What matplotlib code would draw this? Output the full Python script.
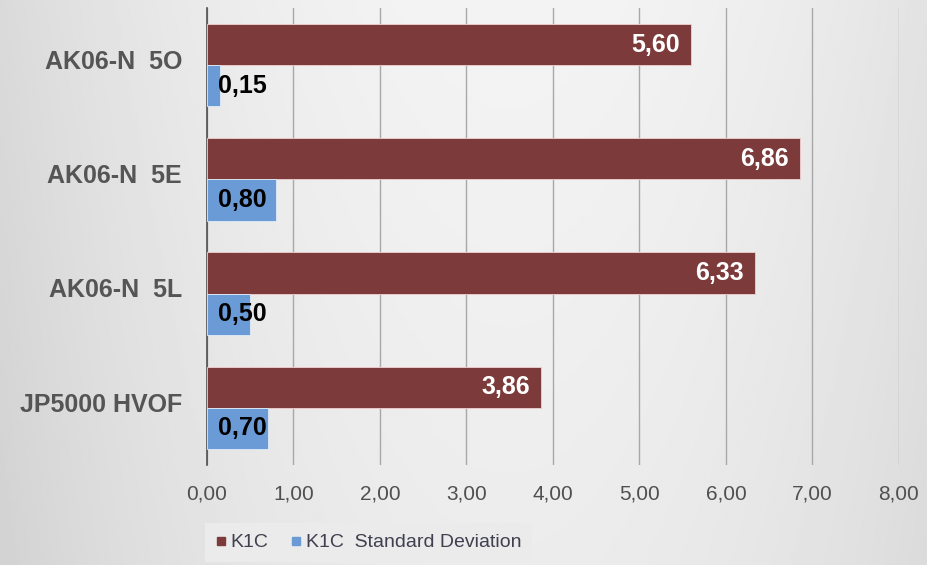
import matplotlib.pyplot as plt
import numpy as np
from matplotlib.lines import Line2D

categories = ["JP5000 HVOF", "AK06-N  5L", "AK06-N  5E", "AK06-N  5O"]
k1c = [3.86, 6.33, 6.86, 5.60]
k1c_std = [0.70, 0.50, 0.80, 0.15]
x_ticks = [0, 1, 2, 3, 4, 5, 6, 7, 8]
series_names = ["K1C", "K1C  Standard Deviation"]

MAROON = "#7d3a3a"
BLUE = "#6b9bd6"
REGULAR = ["Liberation Sans", "DejaVu Sans"]


def fmt(v):
    return f"{v:.2f}".replace(".", ",")


fig = plt.figure(figsize=(9.28, 5.65), dpi=100)

# soft gradient background like the office chart fill
bg = fig.add_axes([0, 0, 1, 1], zorder=-10)
yy, xx = np.mgrid[0:1:200j, 0:1:300j]
shade = 0.955 - 0.10 * ((xx - 0.55) / 0.55) ** 2 - 0.03 * yy
bg.imshow(shade, cmap="gray", vmin=0, vmax=1, aspect="auto", extent=[0, 1, 0, 1])
bg.axis("off")

ax = fig.add_axes([207 / 928, 1 - 465 / 565, (899 - 207) / 928, (465 - 8) / 565])
ax.patch.set_alpha(0)

y = np.arange(len(categories))
h = 0.36
ax.barh(y + h / 2, k1c, height=h, color=MAROON, edgecolor="#f0d0d0", linewidth=0.6, zorder=3)
ax.barh(y - h / 2, k1c_std, height=h, color=BLUE, edgecolor="#e0ecf8", linewidth=0.6, zorder=3)

for yi, v in zip(y, k1c):
    ax.text(v - 0.13, yi + h / 2, fmt(v), ha="right", va="center", color="white",
            fontsize=18, fontweight="bold", family=REGULAR, zorder=4)
for yi, v in zip(y, k1c_std):
    ax.text(0.13, yi - h / 2, fmt(v), ha="left", va="center", color="black",
            fontsize=18, fontweight="bold", family=REGULAR, zorder=4)

ax.set_xlim(0, 8)
ax.set_ylim(-0.5, len(categories) - 0.5)
ax.set_xticks(x_ticks)
ax.set_xticklabels([fmt(t) for t in x_ticks], family=REGULAR, fontsize=15, color="#505050")
ax.set_yticks(y + 0.05)
ax.set_yticklabels(categories, family=REGULAR, fontsize=18, fontweight="bold", color="#555555")
ax.tick_params(axis="x", length=0, pad=14)
ax.tick_params(axis="y", length=0, pad=18)

ax.xaxis.grid(True, color="#a8a8a8", linewidth=1)
ax.set_axisbelow(True)
for side in ["top", "right", "bottom"]:
    ax.spines[side].set_visible(False)
ax.spines["left"].set_color("#505050")
ax.spines["left"].set_linewidth(1.2)

handles = [
    Line2D([], [], marker="s", linestyle="none", color=MAROON, markersize=6),
    Line2D([], [], marker="s", linestyle="none", color=BLUE, markersize=6),
]
leg = fig.legend(handles, series_names, loc="lower left", bbox_to_anchor=(205 / 928, 3 / 565),
                 ncol=2, frameon=True, fancybox=False, facecolor="#ebebeb", edgecolor="none",
                 framealpha=1, handlelength=0.5, handletextpad=0.25, columnspacing=1.2,
                 borderpad=0.55, borderaxespad=0, prop={"family": REGULAR, "size": 14})
for t in leg.get_texts():
    t.set_color("#404050")

fig.savefig("out.png", dpi=100)
